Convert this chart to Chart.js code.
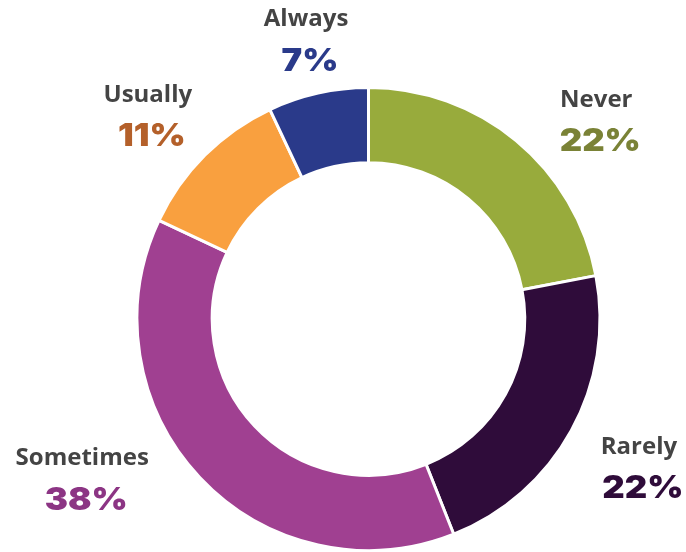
<!DOCTYPE html>
<html>
<head>
<meta charset="utf-8">
<script src="https://cdn.jsdelivr.net/npm/chart.js@4"></script>
<style>
  html, body { margin: 0; padding: 0; background: #fff; overflow: hidden; }
  #wrap { width: 686px; height: 552px; }
</style>
</head>
<body>
<div id="wrap"><canvas id="chart" width="686" height="552"></canvas></div>
<script>
// answers, clockwise from the top
const categories = ['Never', 'Rarely', 'Sometimes', 'Usually', 'Always'];
const shares = [22, 22, 38, 11, 7];
const sliceColors = ['#98ab3c', '#2f0c3a', '#a04091', '#f9a03f', '#2a3a8a'];
const percentColors = ['#7a8236', '#2f0c3a', '#8c3584', '#b4602a', '#2a3a8a'];

// label block: angle from top (deg, clockwise) and distance from the hole centre
const labelPlace = {
  angle: [49.1, 118.5, 240.7, 313, 347.8],
  dist: [304, 310, 326, 299, 286]
};

const outsideLabels = {
  id: 'outsideLabels',
  afterDraw(chart, args, opts) {
    const ctx = chart.ctx;
    const arcs = chart.getDatasetMeta(0).data;
    ctx.save();
    ctx.textAlign = 'center';
    ctx.textBaseline = 'middle';
    arcs.forEach((arc, i) => {
      const a = opts.angle[i] * Math.PI / 180;
      const x = arc.x + Math.sin(a) * opts.dist[i];
      const y = arc.y - Math.cos(a) * opts.dist[i];
      ctx.fillStyle = '#444444';
      ctx.font = '700 24px "Open Sans"';
      ctx.fillText(categories[i], x - 2, y - 20);
      ctx.fillStyle = percentColors[i];
      ctx.font = '900 31px Inter';
      ctx.save();
      ctx.translate(x + 2, y + 22);
      ctx.scale(1.12, 1);
      ctx.fillText(shares[i] + '%', 0, 0);
      ctx.restore();
    });
    ctx.restore();
  }
};

new Chart(document.getElementById('chart'), {
  type: 'doughnut',
  data: {
    labels: categories,
    datasets: [{
      data: shares,
      backgroundColor: sliceColors,
      borderColor: '#ffffff',
      borderWidth: 3,
      hoverOffset: 0
    }]
  },
  options: {
    responsive: false,
    animation: false,
    devicePixelRatio: 1,
    cutout: '67.5%',
    layout: { padding: { left: 133, right: 82, top: 86, bottom: -2 } },
    plugins: {
      legend: { display: false },
      tooltip: { enabled: false },
      outsideLabels: labelPlace
    }
  },
  plugins: [outsideLabels]
});
</script>
</body>
</html>
